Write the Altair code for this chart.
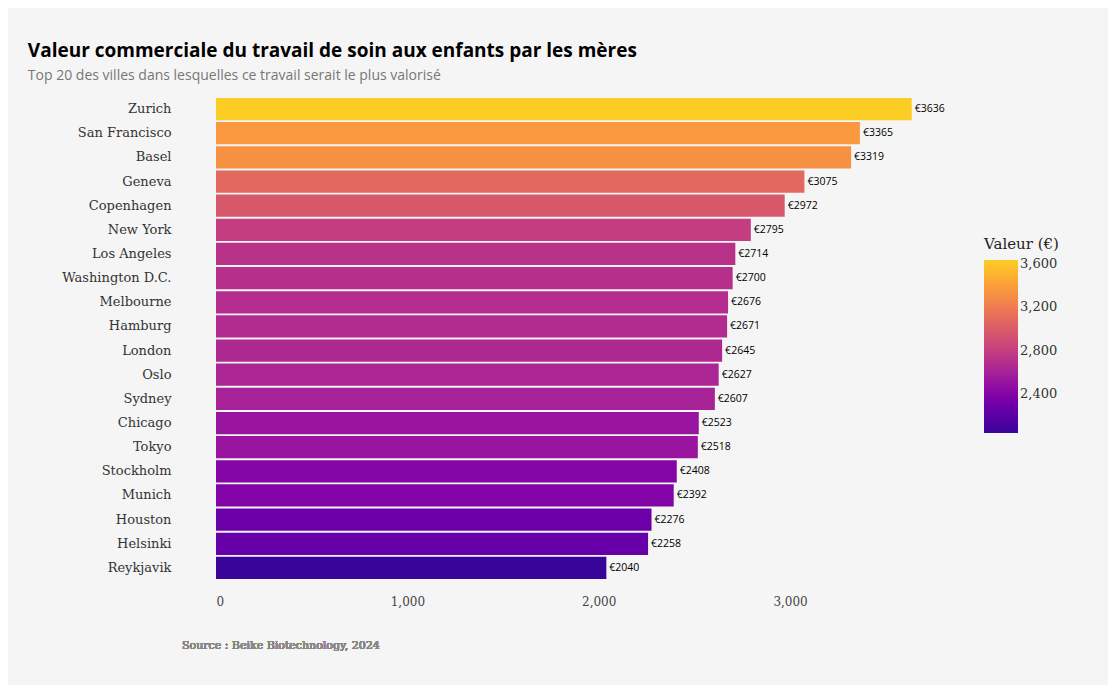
import altair as alt
import pandas as pd

cities = ["Zurich", "San Francisco", "Basel", "Geneva", "Copenhagen", "New York",
          "Los Angeles", "Washington D.C.", "Melbourne", "Hamburg", "London", "Oslo",
          "Sydney", "Chicago", "Tokyo", "Stockholm", "Munich", "Houston", "Helsinki",
          "Reykjavik"]
values = [3636, 3365, 3319, 3075, 2972, 2795, 2714, 2700, 2676, 2671, 2645, 2627,
          2607, 2523, 2518, 2408, 2392, 2276, 2258, 2040]

df = pd.DataFrame({"city": cities, "value": values})
df["label"] = ["€" + str(v) for v in values]

serif = "DejaVu Serif"
sans = "Open Sans"

y = alt.Y("city:N", sort=cities, title=None,
          scale=alt.Scale(paddingInner=0.08, paddingOuter=0.04),
          axis=alt.Axis(labelFont=serif, labelFontSize=13, labelColor="#333333",
                        ticks=False, domain=False, labelPadding=45))
x = alt.X("value:Q", title=None, scale=alt.Scale(domain=[0, 3700], nice=False),
          axis=alt.Axis(values=[0, 1000, 2000, 3000], labelFont=serif, labelFontSize=12,
                        labelColor="#444444", grid=False, ticks=False, domain=False,
                        labelPadding=16))

bars = alt.Chart(df).mark_bar().encode(
    y=y, x=x,
    color=alt.Color("value:Q",
                    scale=alt.Scale(scheme=alt.SchemeParams(name="plasma", extent=[0.08, 0.9]),
                                    domain=[2040, 3636]),
                    legend=alt.Legend(title="Valeur (€)", orient="none", legendX=768, legendY=140,
                                      titleFont=serif, titleFontSize=15, titleFontWeight="normal",
                                      titleColor="#222222", labelFont=serif, labelFontSize=13,
                                      labelColor="#333333", gradientLength=173,
                                      gradientThickness=34, values=[2400, 2800, 3200, 3600],
                                      titlePadding=8)),
)
labels = alt.Chart(df).mark_text(align="left", dx=3, font=sans, fontSize=10.5, color="black").encode(
    y=y, x=x, text="label:N")
source = alt.Chart(df).mark_text(align="left", font=serif, fontSize=11, color="#888888").encode(
    x=alt.value(-34), y=alt.value(549), text=alt.value("Source : Beike Biotechnology, 2024"))

chart = alt.layer(bars, labels, source).properties(
    width=708, height=483,
    autosize=alt.AutoSizeParams(type="none"),
    padding={"left": 208, "top": 89, "right": 184, "bottom": 105},
    background="#f5f5f5",
    title=alt.TitleParams("Valeur commerciale du travail de soin aux enfants par les mères",
                          subtitle="Top 20 des villes dans lesquelles ce travail serait le plus valorisé",
                          anchor="start", dx=-34, offset=14, font=sans, fontSize=19, fontWeight="bold",
                          color="black", subtitleFont=sans, subtitleFontSize=14,
                          subtitleColor="#777777", subtitlePadding=8),
).configure_view(stroke=None)

chart.save("out.html", embed_options={"renderer": "svg", "actions": False})
